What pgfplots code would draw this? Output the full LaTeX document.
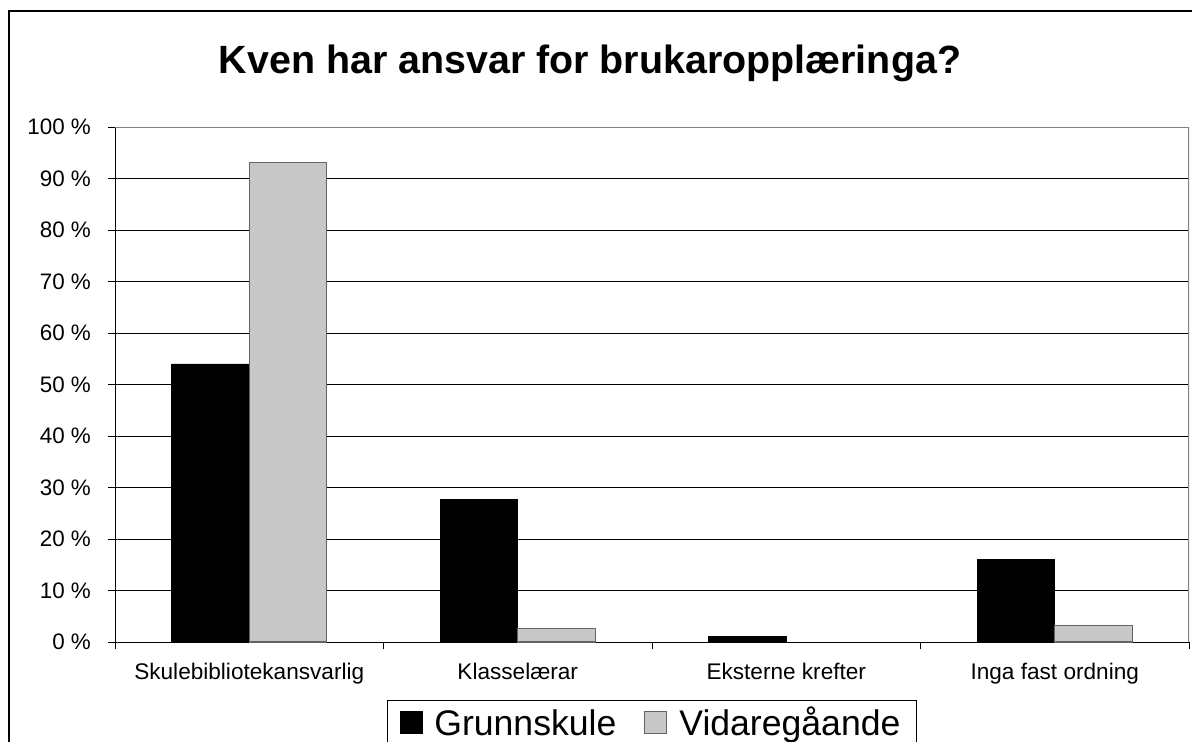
\documentclass[border=0pt]{standalone}
\usepackage{pgfplots}
\pgfplotsset{compat=1.18}
\usepackage{fontspec}
\setmainfont{Liberation Sans}
\definecolor{barg}{RGB}{200,200,200}
\definecolor{bargedge}{RGB}{100,100,100}
\begin{document}
\begin{tikzpicture}
\path[use as bounding box] (-57.5pt,-49.5pt) rectangle (538.5pt,321pt);
\begin{scope}
\clip (-57.5pt,-49.5pt) rectangle (538.5pt,321pt);
\draw[black, line width=0.6pt] (-53pt,-60pt) rectangle (548pt,315.5pt);
\end{scope}
\node[anchor=base, inner sep=0pt, font=\fontsize{19.7}{22}\selectfont\bfseries] at (237.5pt,284.5pt) {Kven har ansvar for brukaropplæringa?};
\begin{axis}[
  width=537pt, height=257.5pt, scale only axis,
  ybar=0pt, bar width=38.75pt,
  xmin=-0.5, xmax=3.5, ymin=0, ymax=100,
  axis lines*=left,
  axis line style={black, line width=0.5pt},
  ytick={0,10,...,100},
  yticklabels={0 \%,10 \%,20 \%,30 \%,40 \%,50 \%,60 \%,70 \%,80 \%,90 \%,100 \%},
  ymajorgrids, grid style={black, line width=0.5pt},
  tick align=outside, major tick length=3.5pt,
  tick style={black, line width=0.5pt},
  xtick={-0.5,0.5,1.5,2.5,3.5}, xticklabels={},
  extra x ticks={0,1,2,3},
  extra x tick labels={Skulebibliotekansvarlig,Klasselærar,Eksterne krefter,Inga fast ordning},
  extra x tick style={major tick length=0pt},
  xticklabel style={font=\fontsize{11.3}{13}\selectfont, yshift=-7pt},
  yticklabel style={font=\fontsize{11.2}{12}\selectfont, xshift=-5pt},
  legend columns=2,
  legend style={at={(0.5,-0.1126)}, anchor=north, draw=black, line width=0.6pt,
    font=\fontsize{17.8}{19}\selectfont, inner xsep=6pt, inner ysep=1pt,
    /tikz/every odd column/.append style={column sep=4pt},
    /tikz/every even column/.append style={column sep=12pt}},
]
\addplot[fill=black, draw=black, line width=0.4pt,
  legend image code/.code={\draw[fill=black,draw=black] (0pt,-5.5pt) rectangle (11pt,5.5pt);}]
  coordinates {(0,54.0) (1,27.7) (2,1.1) (3,16.1)};
\addlegendentry{\vphantom{Gåg}Grunnskule}
\addplot[fill=barg, draw=bargedge, line width=0.6pt,
  legend image code/.code={\draw[fill=barg,draw=bargedge,line width=0.5pt] (0pt,-5.5pt) rectangle (11pt,5.5pt);}]
  coordinates {(0,93.1) (1,2.7) (3,3.2)};
\addlegendentry{\vphantom{Gåg}Vidaregåande}
\draw[gray, line width=0.6pt] (rel axis cs:0,1) -- (rel axis cs:1,1) -- (rel axis cs:1,0);
\end{axis}
\end{tikzpicture}
\end{document}
